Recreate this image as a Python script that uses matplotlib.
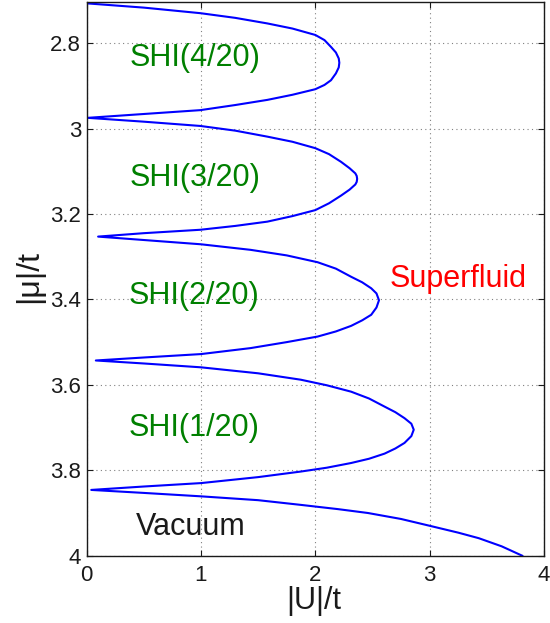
import matplotlib
matplotlib.use('Agg')
import matplotlib.pyplot as plt
import numpy as np

plt.rcParams['font.family'] = ['Liberation Sans', 'DejaVu Sans']

# phase boundary, one branch per lobe (cusp -> tip -> cusp)
U_lobe4 = [0.0, 0.5, 0.994, 1.3, 1.58, 1.8, 2.0, 2.08, 2.137, 2.18, 2.205, 2.21,
           2.205, 2.18, 2.137, 2.08, 2.0, 1.8, 1.58, 1.3, 0.994, 0.5, 0.01]
mu_lobe4 = [2.707, 2.717, 2.730, 2.741, 2.754, 2.766, 2.781, 2.793, 2.809, 2.822, 2.836, 2.846,
            2.857, 2.871, 2.887, 2.898, 2.908, 2.921, 2.933, 2.945, 2.957, 2.966, 2.975]

U_lobe3 = [0.01, 0.5, 0.994, 1.3, 1.58, 1.8, 2.0, 2.12, 2.225, 2.3, 2.35, 2.362, 2.366,
           2.362, 2.35, 2.3, 2.225, 2.12, 2.0, 1.8, 1.58, 1.3, 0.994, 0.5, 0.10]
mu_lobe3 = [2.975, 2.984, 2.994, 3.005, 3.019, 3.031, 3.046, 3.060, 3.078, 3.093, 3.105, 3.111, 3.118,
            3.125, 3.131, 3.143, 3.157, 3.175, 3.191, 3.205, 3.218, 3.228, 3.237, 3.245, 3.253]

U_lobe2 = [0.10, 0.5, 1.0, 1.434, 1.75, 2.02, 2.18, 2.313, 2.41, 2.489, 2.535, 2.557,
           2.535, 2.489, 2.41, 2.313, 2.18, 2.02, 1.75, 1.434, 1.0, 0.5, 0.08]
mu_lobe2 = [3.253, 3.261, 3.271, 3.284, 3.297, 3.313, 3.328, 3.347, 3.360, 3.374, 3.386, 3.402,
            3.419, 3.436, 3.449, 3.462, 3.475, 3.487, 3.500, 3.514, 3.528, 3.536, 3.543]

U_lobe1 = [0.08, 0.5, 1.0, 1.5, 1.873, 2.1, 2.313, 2.47, 2.606, 2.7, 2.78, 2.84, 2.861,
           2.84, 2.78, 2.7, 2.606, 2.47, 2.313, 2.1, 1.873, 1.5, 1.0, 0.5, 0.04]
mu_lobe1 = [3.543, 3.550, 3.559, 3.573, 3.588, 3.601, 3.616, 3.632, 3.651, 3.664, 3.678, 3.691, 3.705,
            3.720, 3.736, 3.749, 3.761, 3.773, 3.783, 3.794, 3.803, 3.816, 3.830, 3.838, 3.846]

U_vac = [0.04, 0.5, 1.0, 1.5, 1.873, 2.2, 2.46, 2.75, 3.017, 3.25, 3.43, 3.63, 3.81]
mu_vac = [3.846, 3.853, 3.861, 3.870, 3.881, 3.891, 3.900, 3.914, 3.931, 3.946, 3.959, 3.978, 4.0]

phase_labels = ['SHI(4/20)', 'SHI(3/20)', 'SHI(2/20)', 'SHI(1/20)']
phase_U = [0.945, 0.95, 0.94, 0.94]
phase_mu = [2.834, 3.116, 3.393, 3.700]

xticks = [0, 1, 2, 3, 4]
yticks = [2.8, 3.0, 3.2, 3.4, 3.6, 3.8, 4.0]

fig = plt.figure(figsize=(5.5, 6.23), dpi=100)
ax = fig.add_axes([0.1576, 0.108, 0.8314, 0.888])

U_all = U_lobe4 + U_lobe3 + U_lobe2 + U_lobe1 + U_vac
mu_all = mu_lobe4 + mu_lobe3 + mu_lobe2 + mu_lobe1 + mu_vac
ax.plot(U_all, mu_all, color='#0000ff', lw=1.5, solid_joinstyle='round')

for lab, u, m in zip(phase_labels, phase_U, phase_mu):
    ax.text(u, m, lab, color='#008000', fontsize=22, ha='center', va='center')
ax.text(0.906, 3.932, 'Vacuum', color='#1a1a1a', fontsize=22, ha='center', va='center')
ax.text(3.245, 3.352, 'Superfluid', color='#ff0000', fontsize=22, ha='center', va='center')

ax.set_xlim(0, 4)
ax.set_ylim(4.0, 2.705)
ax.set_xticks(xticks)
ax.set_yticks(yticks)
ax.set_xticklabels(['%g' % v for v in xticks])
ax.set_yticklabels(['%g' % v for v in yticks])
ax.tick_params(direction='in', top=True, right=True, length=4, width=0.8,
               labelsize=16, colors='#1a1a1a')
ax.tick_params(axis='x', pad=7)
ax.tick_params(axis='y', pad=4)
ax.grid(True, color='#808080', linestyle=(0, (1, 3)), linewidth=0.8)
for s in ax.spines.values():
    s.set_linewidth(1.0)
    s.set_color('#1a1a1a')

ax.set_xlabel('|U|/t', fontsize=22, color='#1a1a1a')
ax.set_ylabel('|\u03bc|/t', fontsize=23, color='#1a1a1a')
ax.xaxis.set_label_coords(0.497, -0.054)
ax.yaxis.set_label_coords(-0.094, 0.504)

fig.savefig('out.png', dpi=100)
